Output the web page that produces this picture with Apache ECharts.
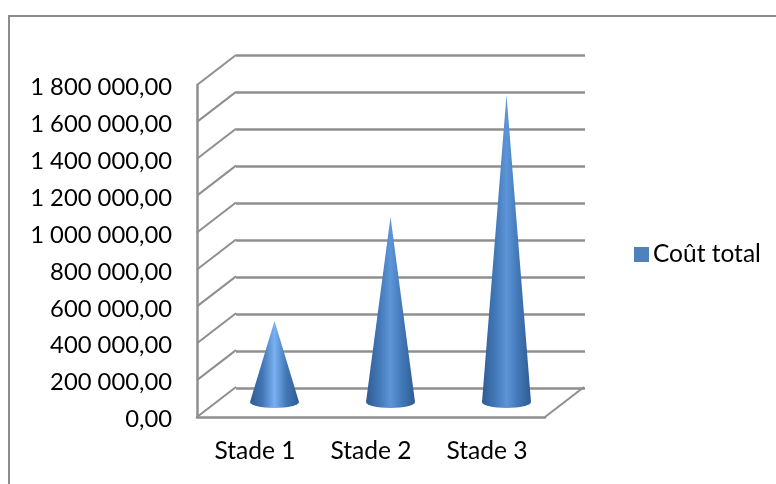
<!DOCTYPE html>
<html><head><meta charset="utf-8">
<style>html,body{margin:0;padding:0;background:#fff}#c{width:776px;height:484px}</style>
<script src="https://cdn.jsdelivr.net/npm/echarts@6/dist/echarts.min.js"></script>
</head><body><div id="c"></div>
<script>
const categories = ['Stade 1', 'Stade 2', 'Stade 3'];
const coutTotal = [439000, 1003000, 1664000];
const seriesName = 'Coût total';
const yMax = 1800000, yStep = 200000;
const yTicks = [0,200000,400000,600000,800000,1000000,1200000,1400000,1600000,1800000];
const DX = 39, DY = -30, HALF = 24.5, RY = 6;
const FONT = 'Lato';
const GRID = '#8f8f8f';
function fmt(v){
  const s = String(Math.round(v)).replace(/\B(?=(\d{3})+$)/g,' ');
  return '{t|' + s + ',00}';
}
const chart = echarts.init(document.getElementById('c'), null, {renderer:'canvas'});
function coneGradient(centerColor){
  return new echarts.graphic.LinearGradient(0,0,1,0,[
    {offset:0,color:'#2f5c92'},{offset:0.25,color:'#4176b5'},
    {offset:0.5,color:centerColor},{offset:0.75,color:'#4176b5'},{offset:1,color:'#2f5c92'}]);
}
chart.setOption({
  animation:false,
  backgroundColor:'#fff',
  graphic:[{type:'rect',silent:true,z:-10,shape:{x:9,y:16,width:800,height:500},
    style:{fill:'none',stroke:'#8c8c8c',lineWidth:2}}],
  legend:{show:true,data:[{name:seriesName,icon:'rect'}],left:634,top:242,padding:0,itemWidth:15,itemHeight:15,itemGap:8,
    textStyle:{fontFamily:FONT,fontSize:24.5,color:'#000',padding:[0,0,0,-1]}},
  grid:[
    {left:197,top:85,width:348,height:332},
    {left:236,top:55,width:349,height:333}
  ],
  xAxis:[
    {type:'category',gridIndex:0,data:categories,boundaryGap:true,
     axisTick:{show:false},axisLine:{show:true,lineStyle:{color:GRID,width:2.5}},
     axisLabel:{fontFamily:FONT,fontSize:24.6,color:'#000',margin:22}},
    {type:'category',gridIndex:1,data:categories,axisLine:{show:false},axisTick:{show:false},axisLabel:{show:false}}
  ],
  yAxis:[
    {type:'value',gridIndex:0,min:0,max:yMax,interval:yStep,
     axisLine:{show:true,lineStyle:{color:GRID,width:2.5}},axisTick:{show:false},splitLine:{show:false},
     axisLabel:{margin:25,formatter:v=>fmt(v),
       rich:{t:{fontFamily:FONT,fontSize:23.8,color:'#000',padding:[5,0,0,0]}}}},
    {type:'value',gridIndex:1,min:0,max:yMax,interval:yStep,position:'left',
     axisLine:{show:false},axisTick:{show:false},axisLabel:{show:false},
     splitLine:{show:true,lineStyle:{color:GRID,width:2.5}}}
  ],
  series:[
    {type:'custom',name:'wall',xAxisIndex:0,yAxisIndex:0,silent:true,z:1,
     data:yTicks.map(v=>[0,v]),
     renderItem(params,api){
       const size=api.size([1,0]);
       const p=api.coord([0,api.value(1)]);
       const x0=p[0]-size[0]/2;
       return {type:'line',shape:{x1:x0,y1:p[1],x2:x0+DX,y2:p[1]+DY},style:{stroke:GRID,lineWidth:2}};
     }},
    {type:'custom',name:'floor',xAxisIndex:0,yAxisIndex:0,silent:true,z:1,
     data:[[2,0]],
     renderItem(params,api){
       const size=api.size([1,0]);
       const p=api.coord([2,0]);
       const x0=p[0]+size[0]/2;
       return {type:'line',shape:{x1:x0,y1:p[1],x2:x0+DX,y2:p[1]+DY},style:{stroke:GRID,lineWidth:2}};
     }},
    {type:'custom',name:seriesName,xAxisIndex:0,yAxisIndex:0,z:5,
     itemStyle:{color:'#4f81bd'},
     encode:{x:0,y:1},
     data:coutTotal.map((v,i)=>[i,v]),
     renderItem(params,api){
       const base=api.coord([api.value(0),0]);
       const top=api.coord([api.value(0),api.value(1)]);
       const bx=base[0]+DX/2, by=base[1]+DY/2, tx=bx, ty=top[1]+DY/2;
       const c=params.dataIndex===0?'#78b0f2':'#5c95d8';
       return {type:'path',
         shape:{pathData:`M${tx} ${ty}L${bx+HALF} ${by}A${HALF} ${RY} 0 0 1 ${bx-HALF} ${by}Z`},
         style:{fill:coneGradient(c)}};
     }}
  ]
});
</script></body></html>
